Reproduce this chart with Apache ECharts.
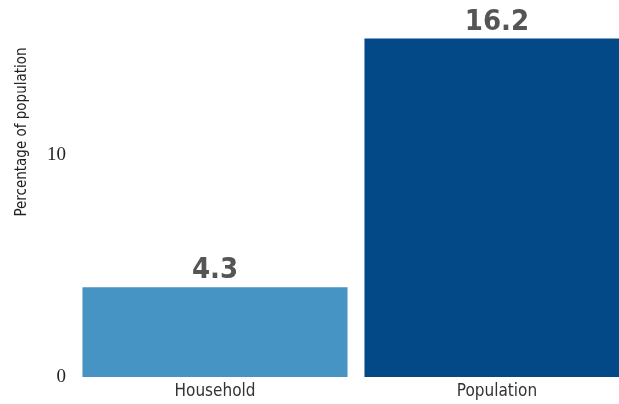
<!DOCTYPE html>
<html>
<head>
<meta charset="utf-8">
<script src="https://cdn.jsdelivr.net/npm/echarts@6/dist/echarts.min.js"></script>
<style>
  html, body { margin: 0; padding: 0; background: #fff; }
  #chart { width: 619px; height: 404px; }
</style>
</head>
<body>
<div id="chart"></div>
<script>
// data
const categories = ["Household", "Population"];
const values = [4.3, 16.2];
const yTicks = [0, 10];

const barColors = ["#4694c3", "#034987"];
const narrow = "'Liberation Sans Narrow', 'DejaVu Sans Condensed', sans-serif";

const chart = echarts.init(document.getElementById("chart"));

chart.setOption({
  animation: false,
  grid: {
    left: 74,
    right: -19,
    top: 1,
    bottom: 27,
    outerBoundsMode: "none",
  },
  xAxis: {
    type: "category",
    data: categories,
    axisLine: { show: false },
    axisTick: { show: false },
    axisLabel: {
      margin: 6,
      fontFamily: narrow,
      fontSize: 17,
      color: "#333",
    },
  },
  yAxis: {
    type: "value",
    min: 0,
    max: 18,
    interval: 10,
    name: "Percentage of population",
    nameLocation: "middle",
    nameRotate: 90,
    nameGap: 44,
    nameTextStyle: {
      fontFamily: narrow,
      fontSize: 15,
      color: "#222",
      padding: [0, 0, 0, 114],
    },
    splitLine: { show: false },
    axisLine: { show: false },
    axisTick: { show: false },
    axisLabel: {
      margin: 8,
      fontFamily: "'Liberation Serif', serif",
      fontSize: 19,
      color: "#222",
      formatter: (v) => {
        if (yTicks.indexOf(v) < 0) return "";
        return v === 0 ? String(v) : "{up|" + v + "}";
      },
      rich: {
        up: {
          fontFamily: "'Liberation Serif', serif",
          fontSize: 19,
          color: "#222",
          padding: [0, 0, 26, 0],
        },
      },
    },
  },
  series: [
    {
      type: "bar",
      data: values,
      barWidth: "94%",
      itemStyle: {
        color: (p) => barColors[p.dataIndex],
      },
      label: {
        show: true,
        position: "top",
        distance: 2,
        fontFamily: narrow,
        fontWeight: "bold",
        fontSize: 29,
        color: "#555",
      },
    },
  ],
});
</script>
</body>
</html>
